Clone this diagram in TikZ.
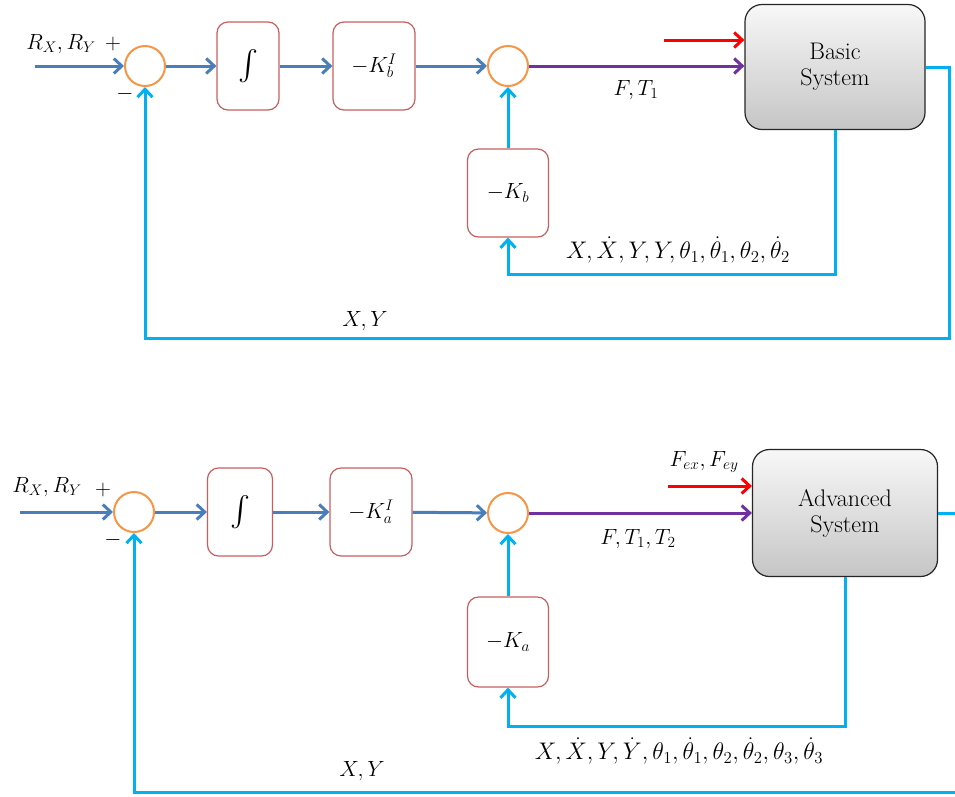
\RequirePackage{fix-cm}
\documentclass[tikz,border=0pt]{standalone}
\usepackage{graphicx}
\usetikzlibrary{arrows.meta}
\definecolor{arrblue}{RGB}{74,126,187}
\definecolor{fbcyan}{RGB}{0,176,240}
\definecolor{sigpurple}{RGB}{112,48,160}
\definecolor{sumorange}{RGB}{247,150,70}
\definecolor{boxred}{RGB}{200,95,95}
\newcommand{\intsym}{{\fontsize{10}{12}\selectfont\scalebox{3}{$\int$}}}
\begin{document}
\begin{tikzpicture}[x=1pt,y=-1pt,
  lbl/.style={font=\fontsize{22}{26}\selectfont, inner sep=0pt},
  lbig/.style={font=\fontsize{24}{28}\selectfont, inner sep=0pt},
  blk/.style={draw=boxred, line width=1.2pt, rounded corners=11pt, fill=white,
     minimum height=88pt, inner sep=0pt, font=\fontsize{22}{26}\selectfont},
  sumc/.style={circle, draw=sumorange, line width=2pt, minimum size=40pt, inner sep=0pt},
  sys/.style={draw=black!85, line width=1.2pt, rounded corners=17pt, top color=gray!6,
     bottom color=gray!45, align=center, font=\fontsize{24}{26}\selectfont},
  tip/.style={-{Straight Barb[length=8pt,width=15pt]}},
  bl/.style={draw=arrblue, line width=3pt, tip},
  cy/.style={draw=fbcyan, line width=3pt},
  pu/.style={draw=sigpurple, line width=3pt, tip},
  rd/.style={draw=red, line width=3pt, tip}
]
\clip (0,0) rectangle (955,796);
\fill[white] (0,0) rectangle (955,796);

% ---------- top diagram ----------
\coordinate (in1) at (35,66);
\node[sumc] (s1) at (145,66) {};
\node[blk, minimum width=62pt] (int1) at (248,66) {\intsym};
\node[blk, minimum width=82pt] (kbi) at (374,66) {$-K_b^I$};
\node[sumc] (s2) at (508,66) {};
\node[sys, minimum width=180pt, minimum height=125pt] (bsys) at (835,67) {Basic\\System};
\node[blk, minimum width=81pt] (kb) at (508,193) {$-K_b$};
\coordinate (r1) at (664,40);
\coordinate (f1) at (835,274);
\coordinate (o1) at (949,338);

\draw[bl] (in1) -- (s1);
\draw[bl] (s1) -- (int1);
\draw[bl] (int1) -- (kbi);
\draw[bl] (kbi) -- (s2);
\draw[pu] (s2) -- (bsys.west |- s2);
\draw[rd] (r1) -- (bsys.west |- r1);
\draw[cy, tip] (bsys.south) |- (f1) -| (kb.south);
\draw[cy, tip] (kb.north) -- (s2.south);
\draw[cy, tip] (bsys.east) -| (o1) -| (s1.south);

\node[lbl] (l1) at (61,44) {$R_X,R_Y$};
\node[lbl] (p1) at (113,44) {$+$};
\node[lbl] (m1) at (125,94) {$-$};
\node[lbl] (l2) at (636,90) {$F,T_1$};
\node[lbig] (l3) at (678,250) {$X,\dot X,Y,Y,\theta_1,\dot\theta_1,\theta_2,\dot\theta_2$};
\node[lbl] (l4) at (365,321) {$X,Y$};

% ---------- bottom diagram ----------
\coordinate (in2) at (20,512);
\node[sumc] (s3) at (134,512) {};
\node[blk, minimum width=65pt] (int2) at (240,512) {\intsym};
\node[blk, minimum width=82pt] (kai) at (371,512) {$-K_a^I$};
\node[sumc] (s4) at (508,513) {};
\node[sys, minimum width=185pt, minimum height=127pt] (asys) at (845,513) {Advanced\\System};
\node[blk, minimum width=81pt, minimum height=90pt] (ka) at (508,642) {$-K_a$};
\coordinate (r2) at (668,486);
\coordinate (f2) at (845,726);
\coordinate (o2) at (966,792);

\draw[bl] (in2) -- (s3);
\draw[bl] (s3) -- (int2);
\draw[bl] (int2) -- (kai);
\draw[bl] (kai) -- (s4);
\draw[pu] (s4) -- (asys.west |- s4);
\draw[rd] (r2) -- (asys.west |- r2);
\draw[cy, tip] (asys.south) |- (f2) -| (ka.south);
\draw[cy, tip] (ka.north) -- (s4.south);
\draw[cy, tip] (asys.east) -| (o2) -| (s3.south);

\node[lbl] (l5) at (47,487) {$R_X,R_Y$};
\node[lbl] (p2) at (103,490) {$+$};
\node[lbl] (m2) at (113,540) {$-$};
\node[lbl] (l6) at (704,462) {$F_{ex},F_{ey}$};
\node[lbl] (l7) at (638,539) {$F,T_1,T_2$};
\node[lbig] (l8) at (679,751) {$X,\dot X,Y,\dot Y,\theta_1,\dot\theta_1,\theta_2,\dot\theta_2,\theta_3,\dot\theta_3$};
\node[lbl] (l9) at (362,771) {$X,Y$};
\end{tikzpicture}
\end{document}
